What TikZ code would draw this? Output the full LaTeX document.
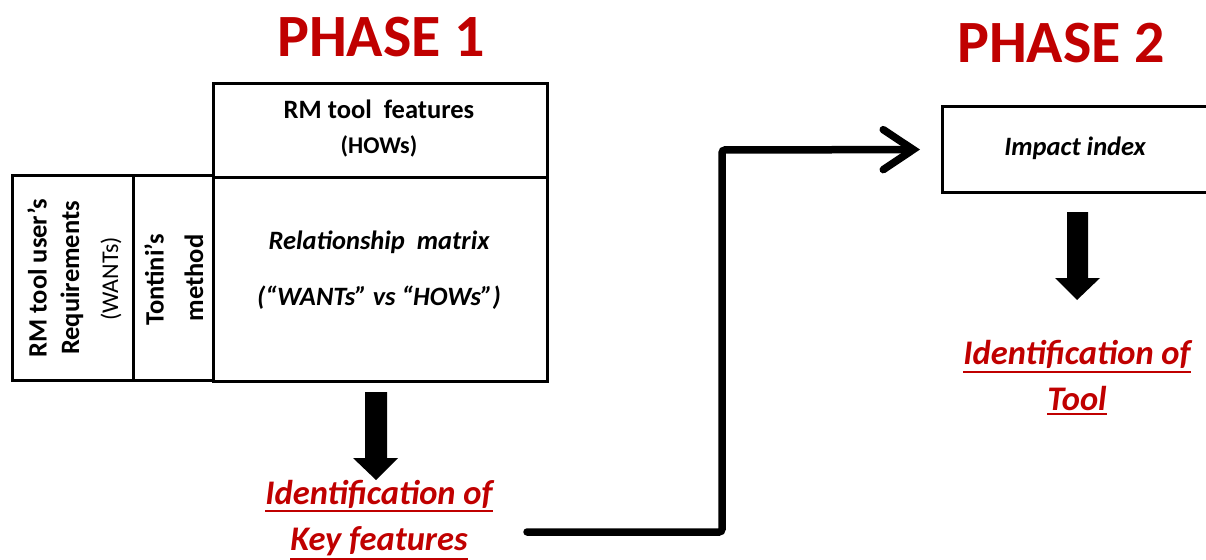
\documentclass[tikz,border=0pt]{standalone}
\usepackage{fontspec}
\setmainfont{Carlito}
\usetikzlibrary{arrows.meta}
\definecolor{phred}{HTML}{C00000}
\newcommand\myul[1]{\setbox0=\hbox{#1}\leavevmode\rlap{\copy0}\rule[\dimexpr-\dp0-4pt\relax]{\wd0}{2.2pt}}
\begin{document}
\begin{tikzpicture}[x=1pt,y=-1pt,
  box/.style={draw=black, line width=3pt, inner sep=0pt},
  body/.style={inner sep=0pt, font=\fontsize{26.5}{30}\selectfont\bfseries},
  bodyit/.style={inner sep=0pt, font=\fontsize{26.5}{30}\selectfont\bfseries\itshape},
  small/.style={inner sep=0pt, font=\fontsize{24}{28}\selectfont},
  phase/.style={inner sep=0pt, text=phred, font=\fontsize{60}{66}\selectfont\bfseries},
  result/.style={inner sep=0pt, text=phred, align=center, font=\fontsize{34.5}{46}\selectfont\bfseries\itshape},
  blockarrow/.style={fill=black, draw=none},
  flow/.style={line width=7.5pt, rounded corners=3pt, line cap=round,
    -{Straight Barb[length=30pt, width=40pt, line cap=round]}}
]
\useasboundingbox (0,0) rectangle (1206,559);
\clip (0,0) rectangle (1206,559);

% titles
\node[phase] (ph1) at (381,37) {PHASE 1};
\node[phase] (ph2) at (1061,43) {PHASE 2};

% phase 1 boxes
\node[box, minimum width=334, minimum height=93] (hows) at (380,130.5) {};
\node[box, minimum width=334, minimum height=204] (matrix) at (380,279) {};
\node[box, minimum width=121, minimum height=205] (wants) at (72.5,278) {};
\node[box, minimum width=80, minimum height=205] (tontini) at (173,278) {};

\node[body] (t1) at (379,109) {RM tool\ \ features};
\node[body, font=\fontsize{24}{28}\selectfont\bfseries] (t2) at (379,146) {(HOWs)};
\node[bodyit] (t3) at (379,242) {Relationship\ \ matrix};
\node[bodyit] (t4) at (379,298) {(“WANTs” vs “HOWs”)};

\node[body, rotate=90] (t5) at (37,278) {RM tool user’s};
\node[body, rotate=90] (t6) at (72,278) {Requirements};
\node[small, rotate=90] (t7) at (111,279) {(WANTs)};
\node[body, rotate=90] (t8) at (154,280) {Tontini’s};
\node[body, rotate=90] (t9) at (194,278) {method};

% block arrow 1
\path[blockarrow] (365,392) -- (387,392) -- (387,458) -- (398,458) -- (376,480)
  -- (353,458) -- (365,458) -- cycle;

\node[result] (key) at (379,520) {\myul{Identification of}\\\myul{Key features}};

% phase 2
\node[box, anchor=west, minimum width=290, minimum height=85] (impact) at (941,149.5) {};
\node[bodyit] (t10) at (1075,148) {Impact index};

\path[blockarrow] (1067,212) -- (1088,212) -- (1088,278) -- (1100,278) -- (1077,300)
  -- (1055,278) -- (1067,278) -- cycle;

\node[result] (tool) at (1077,378) {\myul{Identification of}\\\myul{Tool}};

% flow connector
\coordinate (c0) at (527,532);
\draw[flow, shorten >=21pt] (c0) -- (722,532) -- (722,150) -- (impact.west);
\end{tikzpicture}
\end{document}
